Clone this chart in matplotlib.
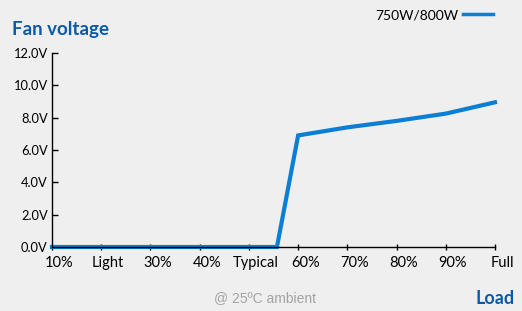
"""
Fan voltage versus load, drawn with matplotlib.
"""

import matplotlib.pyplot as plt
from matplotlib.transforms import ScaledTranslation

# data
load_pct = [10, 20, 30, 40, 50, 55.7, 60, 70, 80, 90, 100]
fan_volts = [0.0, 0.0, 0.0, 0.0, 0.0, 0.0, 6.9, 7.4, 7.8, 8.25, 8.95]
tick_pos = [10, 20, 30, 40, 50, 60, 70, 80, 90, 100]
tick_labels = ['10%', 'Light', '30%', '40%', 'Typical', '60%', '70%', '80%', '90%', 'Full']
y_ticks = [0, 2, 4, 6, 8, 10, 12]

BG = '#efefef'
LINE = '#0a7fd3'
BLUE = '#0b5aa8'

plt.rcParams['font.family'] = ['Lato', 'DejaVu Sans']

fig = plt.figure(figsize=(5.22, 3.11), dpi=100, facecolor=BG)
ax = fig.add_axes([0.0996, 0.2058, 0.8487, 0.6238], facecolor=BG)

ax.plot(load_pct, fan_volts, color=LINE, lw=3, solid_joinstyle='miter', clip_on=False)

ax.set_xlim(10, 100)
ax.set_ylim(0, 12)
ax.set_yticks(y_ticks)
ax.set_yticklabels(['%.1fV' % v for v in y_ticks], fontsize=9.3)
ax.set_xticks(tick_pos)
ax.set_xticklabels([])

# x labels sit a little right of their ticks, as in the original
shift = ax.get_xaxis_transform() + ScaledTranslation(7 / 100, -9 / 100, fig.dpi_scale_trans)
for x, lab in zip(tick_pos, tick_labels):
    ax.text(x, 0, lab, transform=shift, fontsize=10.5, ha='center', va='top')

ax.tick_params(axis='y', direction='in', length=4, width=1, pad=3)
ax.tick_params(axis='x', direction='inout', length=5, width=1)
for s in ['top', 'right']:
    ax.spines[s].set_visible(False)
for s in ['left', 'bottom']:
    ax.spines[s].set_linewidth(1)

fig.text(12 / 522, 1 - 30 / 311, 'Fan voltage', color=BLUE, fontsize=13.5,
         fontweight='bold', va='center', ha='left')
fig.text(458 / 522, 1 - 15 / 311, '750W/800W', fontsize=10, va='center', ha='right')
fig.add_artist(plt.Line2D([463 / 522, 493 / 522], [1 - 14 / 311, 1 - 14 / 311],
                          color=LINE, lw=2.5, transform=fig.transFigure))
fig.text(265 / 522, 1 - 298 / 311, '@ 25ºC ambient', color='#a3a3a3', fontsize=10,
         family='Liberation Sans', va='center', ha='center')
fig.text(515 / 522, 1 - 298 / 311, 'Load', color=BLUE, fontsize=13,
         fontweight='bold', va='center', ha='right')

fig.savefig('out.png', dpi=100, facecolor=BG)
